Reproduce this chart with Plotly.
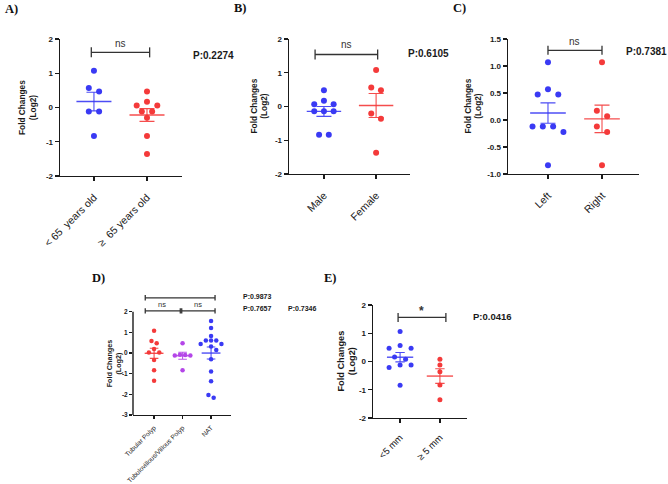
import numpy as np
import plotly.graph_objects as go

W, H = 668, 484
BLUE, RED, PURPLE = "#3a3af4", "#f43a3a", "#b446e8"
INK = "#1a1a1a"
SANS = "Liberation Sans, Arial, sans-serif"
SERIF = "Liberation Serif, Times New Roman, serif"

# ---------------- data ----------------
a_cats = ["< 65  years old", "≥  65 years old"]
a_lt65 = [1.07, 0.57, 0.47, -0.12, -0.12, -0.83]
a_ge65 = [0.47, 0.17, 0.06, 0.06, -0.12, -0.12, -0.30, -0.83, -1.36]
a_yticks = [-2, -1, 0, 1, 2]
a_yticktext = ["-2", "-1", "0", "1", "2"]
a_p = "P:0.2274"

b_cats = ["Male", "Female"]
b_male = [0.48, 0.17, 0.07, 0.07, -0.14, -0.14, -0.14, -0.84, -0.84]
b_female = [1.08, 0.56, 0.48, -0.21, -0.36, -1.37]
b_yticks = [-2, -1, 0, 1, 2]
b_yticktext = ["-2", "-1", "0", "1", "2"]
b_p = "P:0.6105"

c_cats = ["Left", "Right"]
c_left = [1.07, 0.57, 0.47, 0.47, -0.12, -0.12, -0.12, -0.22, -0.84]
c_right = [1.07, 0.17, 0.07, -0.12, -0.22, -0.84]
c_yticks = [-1.0, -0.5, 0.0, 0.5, 1.0, 1.5]
c_yticktext = ["-1.0", "-0.5", "0.0", "0.5", "1.0", "1.5"]
c_p = "P:0.7381"

d_cats = ["Tubular Polyp", "Tubulovillous/Villous Polyp", "NAT"]
d_tubular = [1.08, 0.58, 0.47, 0.19, 0.03, 0.03, -0.34, -0.84, -1.34]
d_tubulovillous = [0.47, -0.08, -0.10, -0.12, -0.12, -0.84]
d_nat = [1.55, 1.21, 0.82, 0.60, 0.60, 0.60, 0.44, 0.44, 0.31, 0.15,
         -0.30, -0.90, -1.37, -2.03, -2.16]
d_yticks = [-3, -2, -1, 0, 1, 2]
d_yticktext = ["-3", "-2", "-1", "0", "1", "2"]
d_p = ["P:0.9873", "P:0.7657", "P:0.7346"]

e_cats = ["<5 mm", "≥ 5 mm"]
e_lt5 = [1.06, 0.57, 0.47, 0.47, 0.16, 0.08, -0.12, -0.12, -0.21, -0.84]
e_ge5 = [0.08, -0.12, -0.36, -0.83, -1.35]
e_yticks = [-2, -1, 0, 1, 2]
e_yticktext = ["-2", "-1", "0", "1", "2"]
e_p = "P:0.0416"

y_title = "Fold Changes<br>(Log2)"

# ---------------- helpers ----------------
def swarm(vals, step_px, coll_px, ppu_y):
    v = np.asarray(vals, float)
    n = len(v)
    order = np.argsort(-v, kind="stable")
    k = np.full(n, np.nan)
    cands = [0, 1, -1, 2, -2, 3, -3, 4, -4, 5, -5]
    for i in order:
        for c in cands:
            clash = False
            for j in range(n):
                if np.isnan(k[j]):
                    continue
                if abs(v[i] - v[j]) * ppu_y < coll_px and abs(c - k[j]) < 1:
                    clash = True
                    break
            if not clash:
                k[i] = c
                break
    parent = list(range(n))

    def find(a):
        while parent[a] != a:
            parent[a] = parent[parent[a]]
            a = parent[a]
        return a

    for i in range(n):
        for j in range(i + 1, n):
            if abs(v[i] - v[j]) * ppu_y < coll_px:
                parent[find(i)] = find(j)
    clusters = {}
    for i in range(n):
        clusters.setdefault(find(i), []).append(i)
    for members in clusters.values():
        ks = k[members]
        k[members] = ks - (ks.min() + ks.max()) / 2
    return k * step_px


panels = [
    dict(label="A)", label_xy=(3, 9), cats=a_cats, groups=[a_lt65, a_ge65], colors=[BLUE, RED],
         xpx=(60, 182), ypx=(39, 176), xrange=(-0.64, 1.66), yrange=(-2, 2),
         yticks=a_yticks, ytext=a_yticktext, msize=6, step=10.3, coll=5.5,
         tickfont=8, catfont=10.5, catstand=6, titlefont=8.3, title_x=27.5, yline=True,
         brackets=[(-0.05, 1.05, 1.61, 5)], sig=[(0.5, 1.86, "ns", 10, False)],
         pvals=[(a_p, 191, 55, 10)], cap=7.5, tick_len=4),
    dict(label="B)", label_xy=(232, 8), cats=b_cats, groups=[b_male, b_female], colors=[BLUE, RED],
         xpx=(289, 410), ypx=(39, 174), xrange=(-0.67, 1.65), yrange=(-2, 2),
         yticks=b_yticks, ytext=b_yticktext, msize=6, step=9.7, coll=5.5,
         tickfont=8, catfont=10.5, catstand=6, titlefont=8.3, title_x=259, yline=True,
         brackets=[(-0.17, 1.03, 1.54, 5)], sig=[(0.43, 1.84, "ns", 10, False)],
         pvals=[(b_p, 406, 53, 10)], cap=7.5, tick_len=4),
    dict(label="C)", label_xy=(451, 8), cats=c_cats, groups=[c_left, c_right], colors=[BLUE, RED],
         xpx=(508, 639), ypx=(39, 174), xrange=(-0.74, 1.685), yrange=(-1, 1.5),
         yticks=c_yticks, ytext=c_yticktext, msize=6, step=10.3, coll=5.5,
         tickfont=8, catfont=10.5, catstand=6, titlefont=8.3, title_x=473, yline=True,
         brackets=[(0.0, 1.0, 1.29, 4.5)], sig=[(0.5, 1.45, "ns", 10, False)],
         pvals=[(c_p, 624, 52, 10)], cap=7.5, tick_len=4),
    dict(label="D)", label_xy=(90, 278), cats=d_cats, groups=[d_tubular, d_tubulovillous, d_nat],
         colors=[RED, PURPLE, BLUE],
         xpx=(133, 231), ypx=(294.1, 415), xrange=(-0.74, 2.70), yrange=(-3, 2.85),
         yticks=d_yticks, ytext=d_yticktext, msize=4.5, step=5.2, coll=4.0,
         tickfont=6.5, catfont=6.6, catstand=2, titlefont=7.2, title_x=114, yline=False,
         brackets=[(-0.31, 2.14, 2.67, 2.7), (-0.31, 0.92, 2.04, 2.7), (0.97, 2.14, 2.04, 2.7)],
         sig=[(0.91, 3.0, "ns", 7.5, False), (0.29, 2.37, "ns", 7.5, False), (1.53, 2.37, "ns", 7.5, False)],
         pvals=[(d_p[0], 241, 296, 7), (d_p[1], 241, 308.5, 7), (d_p[2], 286, 308, 7)],
         cap=4.3, tick_len=3),
    dict(label="E)", label_xy=(322, 278), cats=e_cats, groups=[e_lt5, e_ge5], colors=[BLUE, RED],
         xpx=(373, 467), ypx=(305, 418), xrange=(-0.68, 1.68), yrange=(-2, 2),
         yticks=e_yticks, ytext=e_yticktext, msize=5, step=11, coll=4.8,
         tickfont=8, catfont=9.5, catstand=5, titlefont=9.2, title_x=346, yline=True,
         brackets=[(-0.05, 1.15, 1.56, 4.5)], sig=[(0.55, 1.80, "*", 12, True)],
         pvals=[(e_p, 471, 316, 9.5)], cap=4.7, tick_len=4),
]

fig = go.Figure()
layout = {}
shapes = []
annotations = []

for n, P in enumerate(panels, start=1):
    sfx = "" if n == 1 else str(n)
    xr, yr = "x" + sfx, "y" + sfx
    x0px, x1px = P["xpx"]
    y0px, y1px = P["ypx"]
    ppu_x = (x1px - x0px) / (P["xrange"][1] - P["xrange"][0])
    ppu_y = (y1px - y0px) / (P["yrange"][1] - P["yrange"][0])

    layout["xaxis" + sfx] = dict(
        domain=[x0px / W, x1px / W], range=list(P["xrange"]), anchor=yr, automargin=False,
        showline=True, linecolor=INK, linewidth=1.4, ticks="outside",
        ticklen=P["tick_len"], tickwidth=1.3, tickcolor=INK,
        tickmode="array", tickvals=list(range(len(P["cats"]))), ticktext=P["cats"],
        tickangle=-45, ticklabelstandoff=P["catstand"],
        tickfont=dict(family=SANS, size=P["catfont"], color=INK),
        showgrid=False, zeroline=False, fixedrange=True)
    layout["yaxis" + sfx] = dict(
        domain=[1 - y1px / H, 1 - y0px / H], range=list(P["yrange"]), anchor=xr, automargin=False,
        showline=P["yline"], linecolor=INK, linewidth=1.4, ticks="outside",
        ticklen=P["tick_len"], tickwidth=1.3, tickcolor=INK,
        tickmode="array", tickvals=P["yticks"], ticktext=P["ytext"],
        tickfont=dict(family=SANS, size=P["tickfont"], color=INK, weight="bold"),
        showgrid=False, zeroline=False, fixedrange=True)

    if not P["yline"]:
        shapes.append(dict(type="line", xref=xr + " domain", yref=yr, x0=0, x1=0,
                           y0=min(P["yticks"]), y1=max(P["yticks"]),
                           line=dict(color=INK, width=1.4)))

    for gi, (vals, col) in enumerate(zip(P["groups"], P["colors"])):
        v = np.asarray(vals, float)
        offs = swarm(v, P["step"], P["coll"], ppu_y) / ppu_x
        fig.add_trace(go.Scatter(x=gi + offs, y=v, mode="markers", xaxis=xr, yaxis=yr,
                                 marker=dict(color=col, size=P["msize"], line=dict(width=0)),
                                 showlegend=False, hoverinfo="y"))
        m = float(v.mean())
        sem = float(v.std(ddof=1) / np.sqrt(len(v)))
        fig.add_trace(go.Scatter(x=[gi - 0.33, gi + 0.33], y=[m, m], mode="lines",
                                 xaxis=xr, yaxis=yr, line=dict(color=col, width=1.4),
                                 opacity=0.9, showlegend=False, hoverinfo="skip"))
        fig.add_trace(go.Scatter(x=[gi], y=[m], mode="markers", xaxis=xr, yaxis=yr,
                                 marker=dict(size=1, opacity=0),
                                 error_y=dict(type="data", array=[sem], visible=True,
                                              color=col, thickness=1.1, width=P["cap"]),
                                 opacity=0.9, showlegend=False, hoverinfo="skip"))

    for (bx0, bx1, by, tpx) in P["brackets"]:
        t = tpx / ppu_y
        for (sx0, sx1, sy0, sy1) in [(bx0, bx1, by, by), (bx0, bx0, by - t, by + t),
                                     (bx1, bx1, by - t, by + t)]:
            shapes.append(dict(type="line", xref=xr, yref=yr, x0=sx0, x1=sx1, y0=sy0, y1=sy1,
                               line=dict(color="#333333", width=1.3)))

    for (sx, sy, txt, fs, bold) in P["sig"]:
        annotations.append(dict(x=sx, y=sy, xref=xr, yref=yr, text=txt, showarrow=False,
                                font=dict(family=SANS, size=fs, color="#333333",
                                          weight="bold" if bold else "normal")))

    for (txt, px, py, fs) in P["pvals"]:
        annotations.append(dict(x=px / W, y=1 - py / H, xref="paper", yref="paper", text=txt,
                                showarrow=False, xanchor="left", yanchor="middle",
                                font=dict(family=SANS, size=fs, color=INK, weight="bold")))

    if P["yline"]:
        title_cy = (y0px + y1px) / 2
    else:
        title_cy = y1px - (max(P["yticks"]) - min(P["yticks"])) * ppu_y / 2
    annotations.append(dict(x=P["title_x"] / W, y=1 - title_cy / H,
                            xref="paper", yref="paper", text=y_title, textangle=-90,
                            showarrow=False, xanchor="center", yanchor="middle",
                            font=dict(family=SANS, size=P["titlefont"], color=INK, weight="bold")))

    lx, ly = P["label_xy"]
    annotations.append(dict(x=lx / W, y=1 - ly / H, xref="paper", yref="paper", text=P["label"],
                            showarrow=False, xanchor="left", yanchor="middle",
                            font=dict(family=SERIF, size=12.5, color="#111111", weight="bold")))

fig.update_layout(width=W, height=H, margin=dict(l=0, r=0, t=0, b=0, autoexpand=False),
                  paper_bgcolor="white", plot_bgcolor="white",
                  showlegend=False, shapes=shapes, annotations=annotations, **layout)

fig.write_html("out.html", config={"displayModeBar": False, "staticPlot": True},
               post_script="document.body.style.margin='0';document.body.style.padding='0';"
                           "document.documentElement.style.margin='0';")
